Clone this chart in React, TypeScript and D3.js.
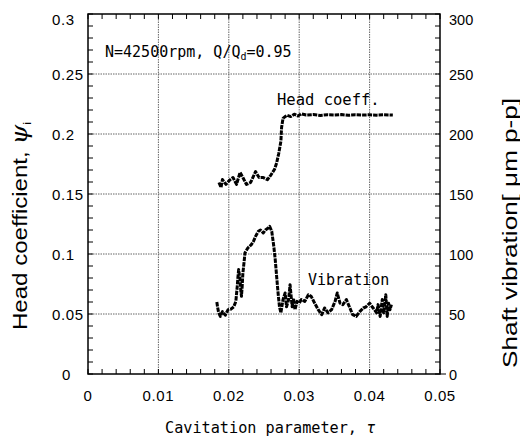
import React from "react";
import * as d3 from "d3";

const xTickValues = [0, 0.01, 0.02, 0.03, 0.04, 0.05];
const xTickLabels = ["0", "0.01", "0.02", "0.03", "0.04", "0.05"];
const yLeftValues = [0, 0.05, 0.1, 0.15, 0.2, 0.25, 0.3];
const yLeftLabels = ["0", "0.05", "0.1", "0.15", "0.2", "0.25", "0.3"];
const yRightValues = [0, 50, 100, 150, 200, 250, 300];
const yRightLabels = ["0", "50", "100", "150", "200", "250", "300"];

const headTau = [0.0186, 0.0189, 0.0191, 0.0196, 0.0201, 0.0206, 0.0211, 0.0216, 0.022, 0.0225, 0.0231, 0.0238, 0.0243, 0.0249, 0.0255, 0.026, 0.0265, 0.0268, 0.0271, 0.0274, 0.0275, 0.0277, 0.028, 0.0283, 0.0288, 0.0293, 0.0298, 0.0303, 0.031, 0.032, 0.033, 0.034, 0.035, 0.036, 0.037, 0.038, 0.039, 0.04, 0.041, 0.042, 0.0433];
const headPsi = [0.1596, 0.1555, 0.162, 0.158, 0.1615, 0.1637, 0.158, 0.168, 0.1637, 0.158, 0.1596, 0.1687, 0.1637, 0.1637, 0.162, 0.166, 0.1706, 0.176, 0.184, 0.194, 0.2056, 0.213, 0.2145, 0.2155, 0.2145, 0.2165, 0.215, 0.2168, 0.2158, 0.2162, 0.2155, 0.216, 0.2158, 0.2162, 0.2156, 0.216, 0.2158, 0.216, 0.2157, 0.216, 0.2158];

const vibTau = [0.0183, 0.0184, 0.01856, 0.0188, 0.0191, 0.0195, 0.0199, 0.0203, 0.0207, 0.021, 0.0212, 0.0213, 0.0214, 0.0216, 0.0217, 0.0218, 0.0219, 0.022, 0.0222, 0.0223, 0.0227, 0.0232, 0.0235, 0.0238, 0.0242, 0.0245, 0.0249, 0.0252, 0.0256, 0.0258, 0.0261, 0.0264, 0.0266, 0.0268, 0.027, 0.0272, 0.0274, 0.0277, 0.028, 0.0282, 0.0285, 0.0287, 0.029, 0.0292, 0.0294, 0.0297, 0.03, 0.0303, 0.0308, 0.0313, 0.0317, 0.0322, 0.0327, 0.0332, 0.0336, 0.0341, 0.0346, 0.0351, 0.0354, 0.0358, 0.0362, 0.0367, 0.0372, 0.0376, 0.0381, 0.0386, 0.0391, 0.0395, 0.04, 0.0405, 0.041, 0.0412, 0.0415, 0.0418, 0.042, 0.0423, 0.0425, 0.0427, 0.0429, 0.0431];
const vibAmp = [60, 56, 51, 48, 52, 49, 53.6, 54, 56, 60.5, 73, 81, 87, 78.6, 70, 64.7, 73, 84, 95, 101, 105, 107.8, 110.5, 114.7, 119, 120, 117.5, 120, 121.7, 123, 119, 106, 95, 81, 67.5, 56, 51, 62, 67.5, 56, 62, 74.4, 56, 63, 53.6, 60.5, 59, 62, 60.5, 66, 64.7, 59, 53.6, 49.4, 55, 51, 53.6, 60.5, 67.5, 59, 57.8, 62, 55, 49.4, 48, 52, 55, 56, 59, 55, 51, 57.8, 48, 62, 51, 66, 48, 59, 53.6, 57.8];

const W = 520;
const H = 438;
const L = 88, R = 440, T = 14, B = 374;

export default function App() {
  const x = d3.scaleLinear().domain([0, 0.05]).range([L, R]);
  const yL = d3.scaleLinear().domain([0, 0.3]).range([B, T]);
  const yR = d3.scaleLinear().domain([0, 300]).range([B, T]);

  const xMinor = d3.range(0, 0.05001, 0.002);
  const yMinor = d3.range(0, 0.3001, 0.01);
  const yRMinor = d3.range(0, 300.1, 10);

  const headData = headTau.map((t, i) => [t, headPsi[i]] as [number, number]);
  const vibData = vibTau.map((t, i) => [t, vibAmp[i]] as [number, number]);
  const headLine = d3.line<[number, number]>().x((d) => x(d[0])).y((d) => yL(d[1]));
  const vibLine = d3.line<[number, number]>().x((d) => x(d[0])).y((d) => yR(d[1]));

  const tickFont = "'Liberation Sans', Arial, sans-serif";
  const mono = "'DejaVu Sans Mono', monospace";
  const grid = "#666";

  return (
    <svg width={W} height={H} style={{ position: "absolute", left: 0, top: 0, background: "#fff" }}>
      <rect x={0} y={0} width={W} height={H} fill="#fff" />
      {/* grid */}
      {xTickValues.slice(1, -1).map((v) => (
        <line key={"gx" + v} x1={x(v)} x2={x(v)} y1={T} y2={B} stroke={grid} strokeWidth={1} strokeDasharray="1.5,1" />
      ))}
      {yLeftValues.slice(1, -1).map((v) => (
        <line key={"gy" + v} x1={L} x2={R} y1={yL(v)} y2={yL(v)} stroke={grid} strokeWidth={1} strokeDasharray="1.5,1" />
      ))}
      {/* minor ticks */}
      {xMinor.map((v, i) => (
        <g key={"xm" + i}>
          <line x1={x(v)} x2={x(v)} y1={B} y2={B - 5} stroke="#000" strokeWidth={1} />
          <line x1={x(v)} x2={x(v)} y1={T} y2={T + 5} stroke="#000" strokeWidth={1} />
        </g>
      ))}
      {yMinor.map((v, i) => (
        <line key={"ym" + i} x1={L} x2={L + 5} y1={yL(v)} y2={yL(v)} stroke="#000" strokeWidth={1} />
      ))}
      {yRMinor.map((v, i) => (
        <line key={"yr" + i} x1={R} x2={R - 5} y1={yR(v)} y2={yR(v)} stroke="#000" strokeWidth={1} />
      ))}
      <line x1={R} x2={R + 6} y1={yR(0)} y2={yR(0)} stroke="#000" strokeWidth={1} />
      {/* frame */}
      <rect x={L} y={T} width={R - L} height={B - T} fill="none" stroke="#000" strokeWidth={1.5} />

      {/* data */}
      <path d={headLine(headData) || ""} fill="none" stroke="#000" strokeWidth={3} strokeDasharray="4.5,1" strokeLinejoin="round" />
      <path d={vibLine(vibData) || ""} fill="none" stroke="#000" strokeWidth={3} strokeDasharray="4.5,1" strokeLinejoin="round" />

      {/* tick labels */}
      {xTickValues.map((v, i) => (
        <text key={"xl" + i} x={x(v)} y={401} textAnchor="middle" fontFamily={tickFont} fontSize={15} letterSpacing={0.6} fill="#000">
          {xTickLabels[i]}
        </text>
      ))}
      {yLeftValues.map((v, i) => (
        <text key={"yl" + i} x={yLeftLabels[i] === "0" ? 62 : 52} y={Math.max(yL(v), 19) + 5.5} textAnchor="start" fontFamily={tickFont} fontSize={15} letterSpacing={0.6} fill="#000">
          {yLeftLabels[i]}
        </text>
      ))}
      {yRightValues.map((v, i) => (
        <text key={"yrl" + i} x={449} y={Math.max(yR(v), 19) + 5.5} textAnchor="start" fontFamily={tickFont} fontSize={14.5} fill="#000">
          {yRightLabels[i]}
        </text>
      ))}

      {/* annotations */}
      <text x={105} y={57} fontFamily={mono} fontSize={15} fill="#000">
        N=42500rpm, Q/Q<tspan fontSize={10} dy={3}>d</tspan><tspan dy={-3}>=0.95</tspan>
      </text>
      <text x={277} y={105} fontFamily={mono} fontSize={15.5} fill="#000">Head coeff.</text>
      <text x={308} y={285} fontFamily={mono} fontSize={15} fill="#000">Vibration</text>

      {/* axis titles */}
      <text x={165} y={433} fontFamily={mono} fontSize={15.2} fill="#000">
        Cavitation parameter, <tspan fontStyle="italic">τ</tspan>
      </text>
      <text transform="translate(27,226) rotate(-90)" textAnchor="middle" fontFamily={tickFont} fontSize={21} textLength={208} lengthAdjust="spacingAndGlyphs" fill="#000">
        Head coefficient, <tspan fontStyle="italic" fontFamily="'DejaVu Serif', serif" fontSize={22}>ψ</tspan><tspan fontSize={11} dy={4}>i</tspan>
      </text>
      <text transform="translate(517,233) rotate(-90)" textAnchor="middle" fontFamily={tickFont} fontSize={20} textLength={270} lengthAdjust="spacingAndGlyphs" fill="#000">
        Shaft vibration[ μm p-p]
      </text>
    </svg>
  );
}
